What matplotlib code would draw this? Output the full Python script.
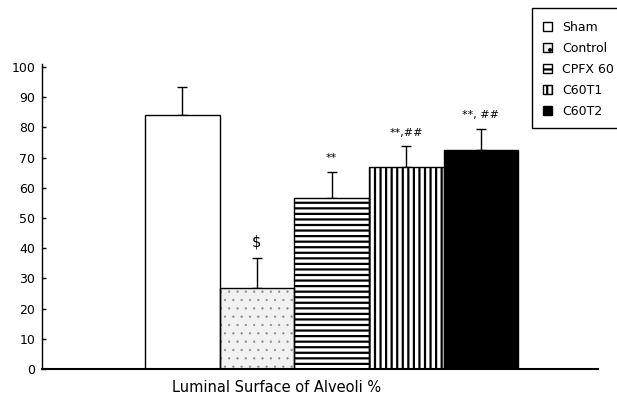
import matplotlib
matplotlib.use("Agg")
import matplotlib.pyplot as plt
from matplotlib.patches import Patch, Rectangle
import numpy as np

plt.rcParams['font.family'] = ['DejaVu Sans']
plt.rcParams['hatch.linewidth'] = 1.6

groups = ["Sham", "Control", "CPFX 60", "C60T1", "C60T2"]
means = [84.0, 26.8, 56.6, 66.9, 72.6]
errors = [9.4, 10.1, 8.7, 6.9, 7.0]
marks = ["", "$", "**", "**,##", "**, ##"]
yticks = [0, 10, 20, 30, 40, 50, 60, 70, 80, 90, 100]
xlabel = "Luminal Surface of Alveoli %"

W, H = 617, 399
fig = plt.figure(figsize=(W / 100, H / 100), dpi=100)
ax = fig.add_axes([42 / W, (H - 369) / H, 556 / W, 305 / H])

x = np.arange(len(groups))
styles = [
    dict(facecolor="white", edgecolor="black", hatch=None),
    dict(facecolor="#f1f1f1", edgecolor="#8a8a8a", hatch=".."),
    dict(facecolor="white", edgecolor="black", hatch="---"),
    dict(facecolor="white", edgecolor="black", hatch="|||"),
    dict(facecolor="black", edgecolor="black", hatch=None),
]
for xi, m, st in zip(x, means, styles):
    lw_h = 0.4 if st["hatch"] == ".." else 1.6
    with plt.rc_context({"hatch.linewidth": lw_h}):
        ax.bar(xi, m, width=1.0, facecolor=st["facecolor"], edgecolor=st["edgecolor"],
               hatch=st["hatch"], linewidth=0, zorder=2)
    ax.bar(xi, m, width=1.0, facecolor="none", edgecolor="black", linewidth=1.0, zorder=3)

ax.errorbar(x, means, yerr=[np.zeros(len(x)), errors], fmt="none", ecolor="black",
            elinewidth=1.0, capsize=3.5, capthick=1.0, zorder=1)

for xi, m, e, t in zip(x, means, errors, marks):
    if not t:
        continue
    if t == "$":
        ax.text(xi, m + e + 5.0, t, ha="center", va="center", fontsize=10.5)
    else:
        ax.text(xi, m + e + 4.5, t, ha="center", va="center", fontsize=8)

ax.set_xlim(-1.88, 5.57)
ax.set_ylim(0, 101)
ax.set_yticks(yticks)
ax.set_yticklabels([str(v) for v in yticks], fontsize=9)
ax.tick_params(axis="y", direction="in", length=3, width=1.0, pad=5)
ax.set_xticks([])
for s in ["top", "right"]:
    ax.spines[s].set_visible(False)
ax.spines["left"].set_linewidth(1.0)
ax.spines["bottom"].set_linewidth(1.5)

fig.text(276.7 / W, 1 - 388 / H, xlabel, ha="center", va="center", fontsize=10.5)

# legend frame
fig.add_artist(Rectangle((532 / W, 1 - 128 / H), 100 / W, 120 / H, transform=fig.transFigure,
                         facecolor="white", edgecolor="black", linewidth=1.0, zorder=4))

handles = [
    Patch(facecolor="white", edgecolor="black", linewidth=1.0),
    Patch(facecolor="#eeeeee", edgecolor="black", hatch="..", linewidth=1.0),
    Patch(facecolor="white", edgecolor="black", hatch="---", linewidth=1.0),
    Patch(facecolor="white", edgecolor="black", hatch="|||", linewidth=1.0),
    Patch(facecolor="black", edgecolor="black", linewidth=1.0),
]
leg = fig.legend(handles, groups, loc="upper left", bbox_to_anchor=(543 / W, 1 - 21 / H),
                 borderaxespad=0, frameon=False, fontsize=9,
                 handlelength=0.68, handleheight=0.7, handletextpad=0.85,
                 labelspacing=0.64, borderpad=0)
leg.set_zorder(5)

fig.savefig("out.png", dpi=100)
